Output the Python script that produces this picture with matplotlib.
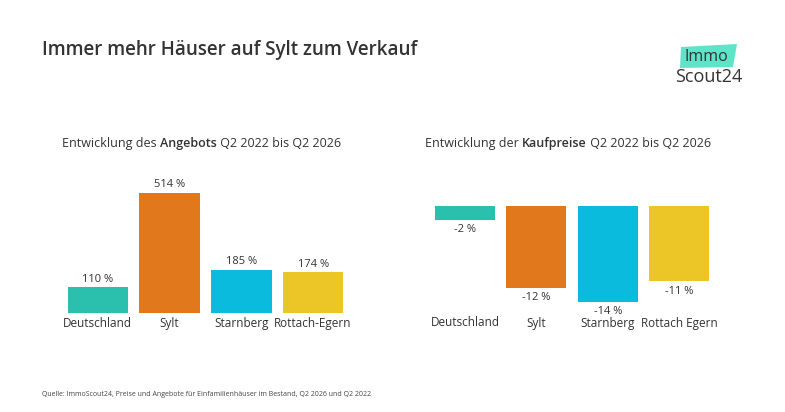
import matplotlib
matplotlib.use('Agg')
import matplotlib.pyplot as plt
from matplotlib.patches import Polygon

plt.rcParams['font.family'] = ['Open Sans', 'DejaVu Sans']

# data
regions_left = ['Deutschland', 'Sylt', 'Starnberg', 'Rottach-Egern']
angebot = [110, 514, 185, 174]
regions_right = ['Deutschland', 'Sylt', 'Starnberg', 'Rottach Egern']
kaufpreis = [-2, -12, -14, -11]
colors = ['#2bbfae', '#e2781c', '#0abbdd', '#ecc526']

W, H = 785, 412
fig = plt.figure(figsize=(W / 100, H / 100), dpi=100)
fig.patch.set_facecolor('white')
text_col = '#333333'


def px_axes(x0, y0, x1, y1):
    # pixel box (top-left origin) -> figure axes
    return fig.add_axes([x0 / W, 1 - y1 / H, (x1 - x0) / W, (y1 - y0) / H])


def clean(ax):
    ax.set_yticks([])
    for s in ax.spines.values():
        s.set_visible(False)


# left chart: offers
ax1 = px_axes(62, 183, 349, 313)
ax1.bar(range(4), angebot, width=0.84, color=colors)
ax1.set_xlim(-0.5, 3.5)
ax1.set_ylim(0, 514 * 130 / 120)
for i, v in enumerate(angebot):
    ax1.annotate(f'{v} %', (i, v), xytext=(0, 2), textcoords='offset points',
                 ha='center', va='bottom', fontsize=8, color=text_col)
ax1.set_xticks(range(4))
ax1.set_xticklabels(regions_left, fontsize=8.5, color=text_col)
ax1.tick_params(axis='x', length=0, pad=3)
clean(ax1)

# right chart: prices
ax2 = px_axes(429, 206, 715, 316)
ax2.bar(range(4), kaufpreis, width=0.84, color=colors)
ax2.set_xlim(-0.5, 3.5)
ax2.set_ylim(-110 / 6.85, 0)
for i, v in enumerate(kaufpreis):
    ax2.annotate(f'{v} %', (i, v), xytext=(0, -3), textcoords='offset points',
                 ha='center', va='top', fontsize=8, color=text_col)
ax2.set_xticks([])
clean(ax2)
# category labels on the same line as the left chart
for i, name in enumerate(regions_right):
    fig.text((465 + i * 71.3) / W, 1 - 323 / H, name, ha='center', va='center',
             fontsize=8.5, color=text_col)

# headline
fig.text(42 / W, 1 - 50 / H, 'Immer mehr Häuser auf Sylt zum Verkauf', fontsize=13.5,
         fontweight='semibold', color=text_col, va='center', ha='left')


def subtitle(x, y, parts):
    ann = fig.text(x / W, 1 - y / H, parts[0][0], fontsize=9, color=text_col,
                   fontweight=parts[0][1], va='baseline', ha='left')
    for txt, wt in parts[1:]:
        ann = plt.annotate(txt, xy=(1, 0), xycoords=ann, xytext=(0, 0),
                           textcoords='offset points', fontsize=9, color=text_col,
                           fontweight=wt, va='bottom', ha='left',
                           annotation_clip=False)
    return ann


subtitle(62, 147, [('Entwicklung des ', 'normal'), ('Angebots', 'semibold'),
                   (' Q2 2022 bis Q2 2026', 'normal')])
subtitle(425, 147, [('Entwicklung der ', 'normal'), ('Kaufpreise', 'semibold'),
                    (' Q2 2022 bis Q2 2026', 'normal')])

# source
fig.text(42 / W, 1 - 394 / H,
         'Quelle: ImmoScout24, Preise und Angebote für Einfamilienhäuser im Bestand, Q2 2026 und Q2 2022',
         fontsize=5, color='#444444', va='center', ha='left')

# logo
logo_pts = [(681, 47), (737, 44), (733, 67), (680, 68)]
fig.patches.append(Polygon([(x / W, 1 - y / H) for x, y in logo_pts], closed=True,
                           transform=fig.transFigure, facecolor='#5fe3c9', edgecolor='none'))
fig.text(706 / W, 1 - 57 / H, 'Immo', fontsize=11.5, color=text_col, ha='center', va='center')
fig.text(709 / W, 1 - 77 / H, 'Scout24', fontsize=13, color=text_col, ha='center', va='center')

fig.savefig('out.png', dpi=100, facecolor='white')
